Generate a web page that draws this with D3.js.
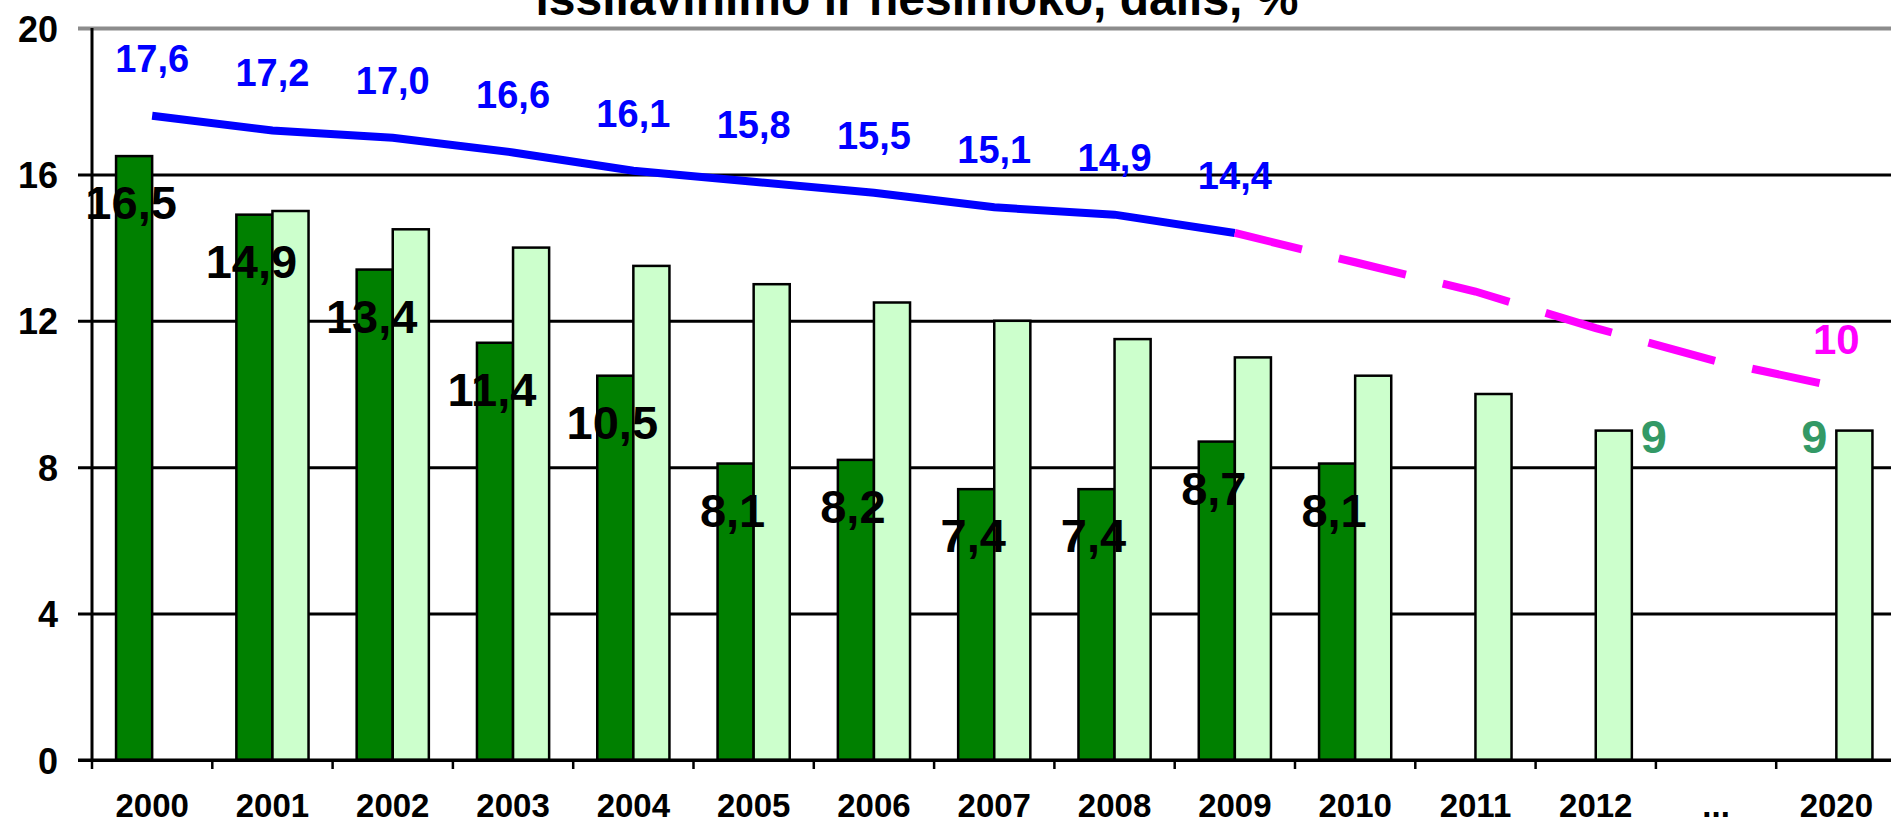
<!DOCTYPE html>
<html>
<head>
<meta charset="utf-8">
<script src="https://cdn.jsdelivr.net/npm/d3@7"></script>
<style>
  body { margin: 0; background: #fff; }
  svg { display: block; font-family: "Liberation Sans", Arial, sans-serif; font-weight: bold; }
</style>
</head>
<body>
<div id="chart"></div>
<script>
// categories on the x axis
const years = ["2000","2001","2002","2003","2004","2005","2006","2007","2008","2009","2010","2011","2012","...","2020"];
// dark green bars (actual)
const actual = [16.5,14.9,13.4,11.4,10.5,8.1,8.2,7.4,7.4,8.7,8.1,null,null,null,null];
// light green bars (national target)
const target = [null,15,14.5,14,13.5,13,12.5,12,11.5,11,10.5,10,9,null,9];
// blue line (EU average)
const euAvg = [17.6,17.2,17.0,16.6,16.1,15.8,15.5,15.1,14.9,14.4,null,null,null,null,null];
// magenta dashed line (EU goal)
const euGoal = [null,null,null,null,null,null,null,null,null,14.4,13.6,12.8,11.8,10.9,10.2];
const goalLabels = ["","","","","","","","","","","","","","","10"];
const targetLabels = ["","","","","","","","","","","","","9","","9"];
const yTicks = [0,4,8,12,16,20];
const titleText = "issilavinimo ir nesimoko, dalis, %";

const W = 1891, H = 824;
const svg = d3.select("#chart").append("svg").attr("width", W).attr("height", H);

const x = d3.scaleBand().domain(years).range([92, 92 + 15 * 120.3]).padding(0);
const sub = d3.scaleBand().domain(["a","t"]).range([x.bandwidth()*0.2, x.bandwidth()*0.8]).padding(0);
const y = d3.scaleLinear().domain([0, 20]).range([760, 28]);
const fmt = v => d3.format(".1f")(v).replace(".", ",");

// title (only the lower part shows, the rest is cropped like the original)
svg.append("text")
  .attr("x", 917).attr("y", 15)
  .attr("text-anchor", "middle")
  .attr("font-size", 48)
  .text(titleText);

// gridlines + y tick labels
const gy = svg.append("g").attr("transform", "translate(78,0)")
  .call(d3.axisRight(y).tickValues(yTicks).tickSize(W - 78).tickFormat(d3.format("d")));
gy.select(".domain").remove();
gy.selectAll(".tick line")
  .attr("stroke", d => d === 20 ? "#8c8c8c" : "#000")
  .attr("stroke-width", d => d === 20 ? 4 : 3);
gy.selectAll(".tick text")
  .attr("x", -20).attr("dy", 13)
  .attr("text-anchor", "end")
  .attr("fill", "#000")
  .attr("font-size", 36)
  .attr("font-family", "Liberation Sans, Arial, sans-serif")
  .attr("font-weight", "bold");

// bars
const bars = svg.append("g");
bars.selectAll("rect.a")
  .data(years.map((c, i) => ({c, v: actual[i]})).filter(d => d.v != null))
  .enter().append("rect")
  .attr("x", d => x(d.c) + sub("a"))
  .attr("y", d => y(d.v))
  .attr("width", sub.bandwidth())
  .attr("height", d => y(0) - y(d.v))
  .attr("fill", "#008000").attr("stroke", "#000").attr("stroke-width", 2.5);
bars.selectAll("rect.t")
  .data(years.map((c, i) => ({c, v: target[i]})).filter(d => d.v != null))
  .enter().append("rect")
  .attr("x", d => x(d.c) + sub("t"))
  .attr("y", d => y(d.v))
  .attr("width", sub.bandwidth())
  .attr("height", d => y(0) - y(d.v))
  .attr("fill", "#CCFFCC").attr("stroke", "#000").attr("stroke-width", 2.5);

// axes lines
svg.append("line").attr("x1", 92).attr("x2", 92).attr("y1", y(20)).attr("y2", y(0))
  .attr("stroke", "#000").attr("stroke-width", 3);
svg.append("line").attr("x1", 78).attr("x2", W).attr("y1", y(0)).attr("y2", y(0))
  .attr("stroke", "#000").attr("stroke-width", 3);

// x axis: ticks at band boundaries, labels at centres
svg.append("g").selectAll("line")
  .data(years)
  .enter().append("line")
  .attr("x1", d => x(d)).attr("x2", d => x(d))
  .attr("y1", y(0)).attr("y2", y(0) + 9)
  .attr("stroke", "#000").attr("stroke-width", 2.5);
const gx = svg.append("g").attr("transform", `translate(0,${y(0)})`)
  .call(d3.axisBottom(x).tickSize(0));
gx.select(".domain").remove();
gx.selectAll(".tick text")
  .attr("y", 57).attr("dy", 0)
  .attr("fill", "#000")
  .attr("font-size", 33)
  .attr("font-family", "Liberation Sans, Arial, sans-serif")
  .attr("font-weight", "bold");

const cx = c => x(c) + x.bandwidth() / 2;

// lines
const avgLine = d3.line().defined(d => d.v != null).x(d => cx(d.c)).y(d => y(d.v));
svg.append("path")
  .datum(years.map((c, i) => ({c, v: euAvg[i]})))
  .attr("d", avgLine)
  .attr("fill", "none").attr("stroke", "#0000FF").attr("stroke-width", 8);
svg.append("path")
  .datum(years.map((c, i) => ({c, v: euGoal[i]})))
  .attr("d", avgLine)
  .attr("fill", "none").attr("stroke", "#FF00FF").attr("stroke-width", 8)
  .attr("stroke-dasharray", "69,38");

// labels: EU average
svg.append("g").selectAll("text")
  .data(years.map((c, i) => ({c, v: euAvg[i]})).filter(d => d.v != null))
  .enter().append("text")
  .attr("x", d => cx(d.c)).attr("y", d => y(d.v) - 44)
  .attr("text-anchor", "middle").attr("font-size", 38).attr("fill", "#0000FF")
  .text(d => fmt(d.v));

// labels: actual
svg.append("g").selectAll("text")
  .data(years.map((c, i) => ({c, v: actual[i]})).filter(d => d.v != null))
  .enter().append("text")
  .attr("x", d => x(d.c) + sub("a") + sub.bandwidth() / 2 - 3)
  .attr("y", d => y(d.v) + 63)
  .attr("text-anchor", "middle").attr("font-size", 47).attr("fill", "#000")
  .text(d => fmt(d.v));

// labels: target (9)
svg.append("g").selectAll("text")
  .data(years.map((c, i) => ({c, i, v: target[i], t: targetLabels[i]})).filter(d => d.t))
  .enter().append("text")
  .attr("x", d => d.i === years.length - 1
      ? x(d.c) + sub("t") - 22
      : x(d.c) + sub("t") + sub.bandwidth() + 22)
  .attr("y", d => y(d.v) + 22)
  .attr("text-anchor", "middle").attr("font-size", 47).attr("fill", "#339966")
  .text(d => d.t);

// labels: goal (10)
svg.append("g").selectAll("text")
  .data(years.map((c, i) => ({c, v: euGoal[i], t: goalLabels[i]})).filter(d => d.t))
  .enter().append("text")
  .attr("x", d => cx(d.c)).attr("y", d => y(d.v) - 33)
  .attr("text-anchor", "middle").attr("font-size", 42).attr("fill", "#FF00FF")
  .text(d => d.t);
</script>
</body>
</html>
